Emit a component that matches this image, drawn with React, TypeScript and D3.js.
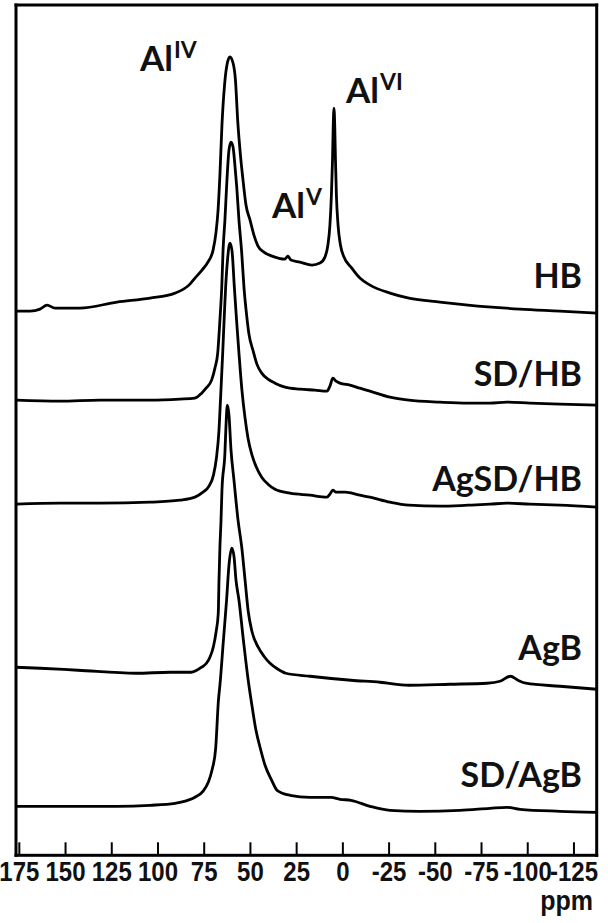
import React from "react";
import * as d3 from "d3";

// ---- data (ppm, intensity above each trace's own baseline) ----
const seriesNames = ["HB", "SD/HB", "AgSD/HB", "AgB", "SD/AgB"];
const seriesOffsets = [544, 455, 351, 188, 49];

const hb: [number, number][] = [
  [176.8, 0], [169.2, 0], [163.8, 2], [160.0, 6], [155.7, 3], [142.2, 3], [122.2, 9], [104.3, 13],
  [90.8, 18], [82.7, 27], [80.0, 33], [76.2, 41], [73.0, 49], [70.2, 61], [68.6, 79], [67.5, 101],
  [66.5, 136], [65.4, 186], [64.0, 226], [62.7, 246], [61.1, 254], [59.4, 248], [58.1, 231],
  [56.9, 191], [55.4, 156], [54.0, 131], [52.4, 106], [50.2, 91], [48.1, 76], [45.9, 65],
  [42.7, 59], [38.3, 55], [31.3, 52], [29.7, 55], [28.1, 51], [23.2, 49], [16.7, 46], [12.4, 48],
  [9.7, 54], [8.1, 66], [7.0, 86], [6.2, 116], [5.6, 151], [5.2, 186], [4.8, 203], [4.4, 186],
  [4.0, 151], [3.5, 116], [2.6, 86], [1.3, 66], [-0.6, 54], [-4.4, 44], [-9.2, 33], [-14.7, 26],
  [-25.5, 18], [-35.7, 13], [-52.5, 9], [-67.7, 6], [-95.8, 2], [-117.4, 0], [-137.4, -2],
];

const sdHb: [number, number][] = [
  [176.8, 0], [153.0, -1], [131.4, 0], [104.3, 0], [88.1, 1], [80.0, 2], [76.4, 7], [74.0, 12],
  [71.0, 20], [69.2, 32], [67.7, 47], [66.5, 80], [65.5, 113], [64.8, 150], [63.8, 180],
  [62.7, 220], [61.6, 250], [60.5, 258], [59.4, 253], [58.4, 235], [57.4, 213], [56.2, 180],
  [54.7, 147], [53.5, 113], [52.0, 84], [50.8, 66], [48.5, 49], [46.5, 36], [43.9, 27],
  [40.5, 21], [36.7, 17], [31.3, 13], [23.2, 11], [15.1, 10], [8.6, 9], [7.0, 14], [5.4, 22],
  [3.7, 19], [1.6, 17], [-3.8, 15], [-9.2, 12], [-14.7, 9], [-25.5, 3], [-35.7, 0], [-52.5, -2],
  [-67.7, -3], [-79.6, -3], [-88.7, -2], [-101.2, -3], [-117.4, -4], [-137.4, -5],
];

const agSdHb: [number, number][] = [
  [176.8, 0], [153.0, 1], [131.4, 1], [104.3, 2], [88.1, 4], [80.0, 7], [75.7, 12], [72.4, 18],
  [70.0, 29], [68.4, 46], [67.0, 74], [66.2, 104], [65.0, 151], [64.0, 194], [63.4, 217],
  [62.4, 244], [61.1, 261], [60.0, 254], [58.7, 217], [57.5, 184], [56.2, 151], [54.6, 114],
  [52.9, 86], [51.3, 66], [49.3, 50], [47.0, 38], [43.9, 27], [40.5, 20], [36.7, 15], [28.6, 11],
  [17.8, 9], [8.6, 7], [7.0, 10], [5.4, 14], [3.7, 12], [-1.1, 12], [-4.9, 11], [-9.2, 9],
  [-14.7, 7], [-25.5, 2], [-35.7, -1], [-52.5, -2], [-67.7, -1], [-79.6, 0], [-88.7, 1],
  [-101.2, 0], [-117.4, -1], [-137.4, -3],
];

const agB: [number, number][] = [
  [176.8, 0], [163.8, -1], [143.3, -3], [111.9, -6], [93.5, -5], [82.1, -5], [76.4, 0], [73.8, 4],
  [71.9, 10], [70.1, 20], [68.6, 35], [67.4, 54], [67.0, 87], [66.5, 120], [65.9, 147],
  [65.4, 177], [63.8, 214], [63.2, 242], [62.5, 262], [61.6, 252], [60.5, 217], [58.9, 187],
  [56.7, 147], [54.7, 120], [52.9, 87], [51.2, 56], [49.2, 36], [45.8, 20], [42.7, 11],
  [39.4, 4], [35.1, -2], [30.8, -6], [17.8, -9], [-4.4, -13], [-20.1, -15], [-35.7, -18],
  [-57.9, -17], [-77.9, -16], [-85.0, -14], [-90.6, -9], [-94.7, -13], [-99.0, -16],
  [-117.4, -19], [-137.4, -22],
];

const sdAgB: [number, number][] = [
  [176.8, 0], [122.2, 0], [104.3, 1], [90.8, 3], [88.1, 4], [80.0, 9], [75.7, 15], [72.8, 24],
  [70.8, 36], [68.8, 58], [67.3, 106], [66.5, 121], [64.6, 166], [62.9, 206], [61.6, 241],
  [60.1, 258], [58.9, 250], [57.8, 226], [56.2, 206], [53.8, 166], [51.2, 126], [49.2, 101],
  [47.0, 76], [44.8, 59], [42.1, 41], [38.5, 26], [35.6, 16], [28.6, 11], [17.8, 9], [6.4, 9],
  [1.6, 7], [-4.4, 6], [-14.7, 0], [-25.5, -4], [-41.7, -5], [-63.3, -4], [-79.6, -2],
  [-88.7, -1], [-95.8, -3], [-117.4, -5], [-137.4, -6],
];

const seriesData = [hb, sdHb, agSdHb, agB, sdAgB];
const xTicks = [175, 150, 125, 100, 75, 50, 25, 0, -25, -50, -75, -100, -125];
const xDomain: [number, number] = [176.8, -137.3];
const yDomain: [number, number] = [0, 850];
const xLabel = "ppm";

// ---- layout ----
const W = 608;
const H = 923;
const frameL = 16;
const frameR = 596.7;
const frameT = 5;
const frameB = 855.3;
const frameW = 3;
const labelBaselines = [288, 386, 491, 660, 787];
const labelRight = 582;

const peakLabels = [
  { base: "Al", sup: "IV", x: 140, y: 71 },
  { base: "Al", sup: "V", x: 272, y: 218 },
  { base: "Al", sup: "VI", x: 346, y: 103 },
];

export default function App() {
  const x = d3.scaleLinear().domain(xDomain).range([frameL, frameR]);
  const y = d3.scaleLinear().domain(yDomain).range([frameB, frameT]);

  const lines = seriesData.map((s, i) => {
    const off = seriesOffsets[i];
    const gen = d3
      .line<[number, number]>()
      .x((d) => x(d[0]))
      .y((d) => y(d[1] + off))
      .curve(d3.curveMonotoneX);
    return gen(s) || "";
  });

  const labelFont = "Lato, 'Open Sans', sans-serif";
  const tickFont = "'Liberation Sans', Arial, sans-serif";
  const h = frameW / 2;

  return (
    <svg
      width={W}
      height={H}
      style={{ position: "absolute", left: 0, top: 0, background: "#fff" }}
    >
      <rect x={0} y={0} width={W} height={H} fill="#fff" />
      {lines.map((d, i) => (
        <path
          key={i}
          d={d}
          fill="none"
          stroke="#000"
          strokeWidth={2.8}
          strokeLinejoin="round"
        />
      ))}
      {/* frame as filled bars */}
      <rect x={frameL - h} y={frameT - h} width={frameR - frameL + frameW} height={frameW} fill="#000" />
      <rect x={frameL - h} y={frameB - h} width={frameR - frameL + frameW} height={frameW} fill="#000" />
      <rect x={frameL - h} y={frameT - h} width={frameW} height={frameB - frameT + frameW} fill="#000" />
      <rect x={frameR - h} y={frameT - h} width={frameW} height={frameB - frameT + frameW} fill="#000" />
      {xTicks.map((t) => (
        <g key={t}>
          <line
            x1={x(t)}
            x2={x(t)}
            y1={frameB}
            y2={frameB - 13}
            stroke="#000"
            strokeWidth={2}
          />
          <text
            transform={`translate(${x(t)},880.5) scale(1,1.12)`}
            textAnchor="middle"
            fontFamily={tickFont}
            fontWeight={700}
            fontSize={24}
            fill="#111"
          >
            {t < 0 ? "-" + Math.abs(t) : String(t)}
          </text>
        </g>
      ))}
      <text
        transform={`translate(593,910) scale(1,1.1)`}
        textAnchor="end"
        fontFamily={tickFont}
        fontWeight={700}
        fontSize={25}
        fill="#111"
      >
        {xLabel}
      </text>
      {seriesNames.map((n, i) => (
        <text
          key={n}
          x={labelRight}
          y={labelBaselines[i]}
          textAnchor="end"
          fontFamily={labelFont}
          fontWeight={700}
          fontSize={34}
          fill="#111"
        >
          {n}
        </text>
      ))}
      {peakLabels.map((p, i) => (
        <text
          key={i}
          x={p.x}
          y={p.y}
          fontFamily={labelFont}
          fontWeight={700}
          fontSize={35}
          fill="#111"
        >
          {p.base}
          <tspan dx={1} dy={-13} fontSize={23}>
            {p.sup}
          </tspan>
        </text>
      ))}
    </svg>
  );
}
